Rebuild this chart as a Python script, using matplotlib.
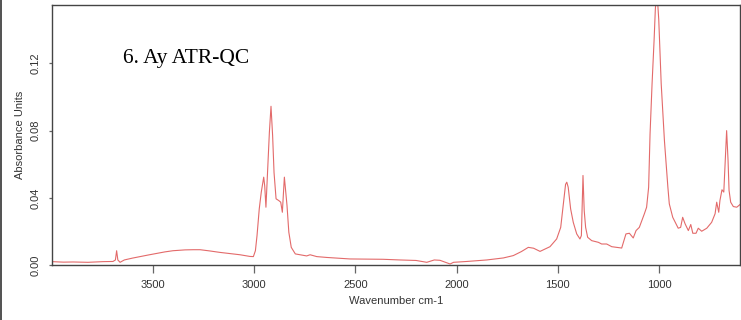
import matplotlib
matplotlib.use("Agg")
import matplotlib.pyplot as plt
from matplotlib.lines import Line2D

# ATR-FTIR spectrum of sample 6 (Ay), wavenumber in cm-1 and absorbance
wavenumber = [
    3997, 3940, 3893, 3820, 3745, 3696, 3684, 3678, 3672, 3661, 3640, 3600,
    3563, 3520, 3480, 3440, 3400, 3340, 3300, 3266, 3220, 3168, 3120, 3069,
    3020, 3003, 2993, 2985, 2974, 2964, 2952, 2947, 2941, 2932, 2924, 2916,
    2908, 2901, 2891, 2878, 2868, 2860, 2850, 2843, 2837, 2828, 2816, 2796,
    2773, 2740, 2723, 2690, 2641, 2580, 2526, 2440, 2363, 2279, 2200, 2147,
    2110, 2082, 2045, 2032, 2015, 1950, 1851, 1769, 1720, 1680, 1646, 1620,
    1588, 1539, 1506, 1486, 1473, 1462, 1456, 1449, 1437, 1424, 1407, 1391,
    1384, 1376, 1370, 1363, 1353, 1333, 1300, 1284, 1259, 1234, 1185, 1164,
    1147, 1128, 1114, 1098, 1073, 1062, 1052, 1045, 1035, 1025, 1019, 1012,
    1002, 990, 974, 957, 950, 933, 917, 906, 894, 884, 872, 856,
    844, 834, 818, 807, 790, 765, 741, 724, 716, 706, 700, 690,
    681, 674, 667, 660, 655, 647, 634, 617, 601,
]
absorbance = [
    0.0020, 0.0017, 0.0018, 0.0016, 0.0020, 0.0021, 0.0030, 0.0085, 0.0030, 0.0016, 0.0030, 0.0041,
    0.0050, 0.0060, 0.0069, 0.0078, 0.0085, 0.0090, 0.0091, 0.0091, 0.0084, 0.0075, 0.0068, 0.0061,
    0.0051, 0.0050, 0.0085, 0.0175, 0.0334, 0.0434, 0.0523, 0.0470, 0.0344, 0.0573, 0.0790, 0.0945,
    0.0770, 0.0550, 0.0394, 0.0384, 0.0374, 0.0314, 0.0523, 0.0434, 0.0354, 0.0195, 0.0105, 0.0066,
    0.0061, 0.0054, 0.0061, 0.0050, 0.0045, 0.0040, 0.0036, 0.0035, 0.0034, 0.0030, 0.0027, 0.0016,
    0.0030, 0.0028, 0.0012, 0.0006, 0.0016, 0.0021, 0.0030, 0.0042, 0.0056, 0.0080, 0.0105, 0.0100,
    0.0081, 0.0109, 0.0155, 0.0224, 0.0364, 0.0480, 0.0493, 0.0463, 0.0334, 0.0254, 0.0185, 0.0155,
    0.0175, 0.0533, 0.0324, 0.0224, 0.0165, 0.0145, 0.0135, 0.0125, 0.0125, 0.0109, 0.0101, 0.0185,
    0.0189, 0.0161, 0.0205, 0.0224, 0.0305, 0.0344, 0.0463, 0.0780, 0.1080, 0.1340, 0.1520, 0.1650,
    0.1460, 0.1080, 0.0740, 0.0463, 0.0364, 0.0284, 0.0246, 0.0219, 0.0224, 0.0284, 0.0245, 0.0205,
    0.0241, 0.0189, 0.0189, 0.0219, 0.0201, 0.0219, 0.0254, 0.0305, 0.0374, 0.0314, 0.0384, 0.0448,
    0.0434, 0.0623, 0.0800, 0.0623, 0.0444, 0.0374, 0.0348, 0.0344, 0.0360,
]

x_ticks = [3500, 3000, 2500, 2000, 1500, 1000]
y_ticks = [0.00, 0.04, 0.08, 0.12]
y_tick_labels = ["0.00", "0.04", "0.08", "0.12"]

W, H = 741, 320
fig = plt.figure(figsize=(W / 100, H / 100), dpi=100)
fig.patch.set_facecolor("white")

ax = fig.add_axes([52 / W, (H - 265) / H, (740 - 52) / W, (265 - 5) / H])
ax.plot(wavenumber, absorbance, color="#E36A6A", linewidth=0.8)

ax.set_xlim(3997, 601)
ax.set_ylim(0, 0.1548)

sans = "Liberation Sans"
ax.set_xticks(x_ticks)
ax.set_xticklabels([str(t) for t in x_ticks], fontfamily=sans, fontsize=8, color="#333333")
ax.set_yticks(y_ticks)
ax.set_yticklabels(y_tick_labels, fontfamily=sans, fontsize=8, color="#333333",
                   rotation=90, va="center")
ax.tick_params(axis="x", direction="out", length=6, width=0.9, color="#666666", pad=5)
ax.tick_params(axis="y", direction="out", length=2.5, width=0.9, color="#666666", pad=6)

for side in ax.spines.values():
    side.set_color("#444444")
    side.set_linewidth(1.0)

ax.set_xlabel("Wavenumber cm-1", fontfamily=sans, fontsize=8, color="#333333", labelpad=4)
ax.set_ylabel("Absorbance Units", fontfamily=sans, fontsize=8, color="#333333", labelpad=4)

fig.text(123 / W, 1 - 63 / H, "6. Ay ATR-QC", fontfamily="Liberation Serif",
         fontsize=15.5, color="black", va="baseline", ha="left")

# left frame line of the figure
fig.add_artist(Line2D([0.7 / W, 0.7 / W], [0, 1], transform=fig.transFigure,
                      color="#333333", linewidth=1.2))

fig.savefig("out.png", dpi=100)
